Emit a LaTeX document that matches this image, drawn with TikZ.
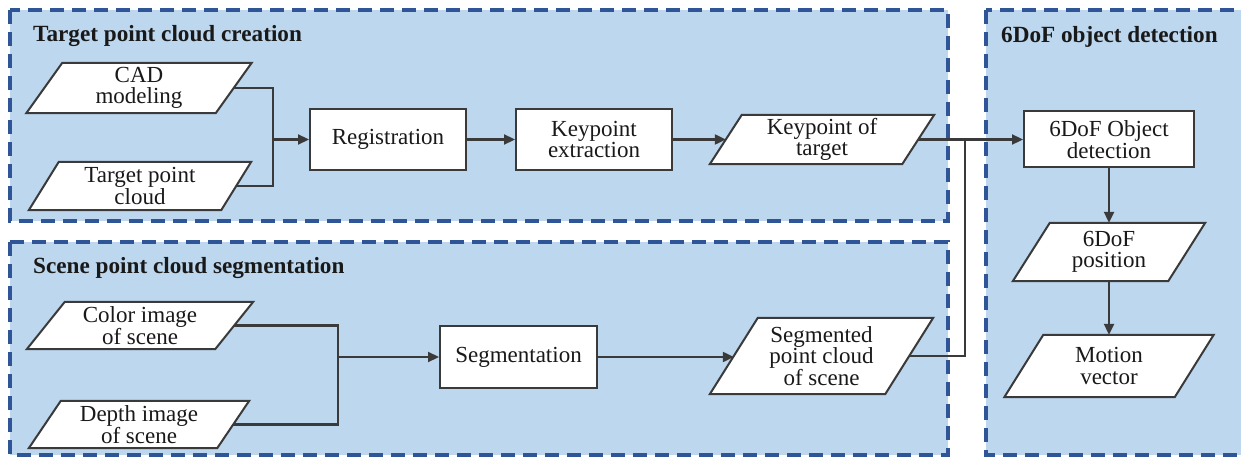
\documentclass[tikz,border=0pt]{standalone}
\usepackage{fontspec}
\setmainfont{Liberation Serif}
\usetikzlibrary{arrows.meta,calc}
\pgfdeclarelayer{bg}
\pgfdeclarelayer{mid}
\pgfsetlayers{bg,mid,main}
\definecolor{regfill}{RGB}{189,215,238}
\definecolor{regline}{RGB}{47,85,151}
\definecolor{ink}{RGB}{58,58,58}
\definecolor{txt}{RGB}{25,25,25}
\begin{document}
\begin{tikzpicture}[x=1pt,y=-1pt,
  region/.style={fill=regfill, draw=regline, line width=4pt, dash pattern=on 14pt off 8pt},
  lbl/.style={rectangle, inner sep=0pt, align=center, text=txt, font=\fontsize{23}{21.5}\selectfont},
  proc/.style={lbl, draw=ink, line width=2pt, fill=white},
  io/.style={lbl},
  iobox/.style={draw=ink, line width=2pt, fill=white, line join=miter},
  conn/.style={draw=ink, line width=2.2pt},
  arr/.style={conn, -{Triangle[length=11pt,width=10pt]}},
  title/.style={anchor=base west, font=\bfseries\fontsize{23.2}{24}\selectfont, text=txt, inner sep=0pt}]
\useasboundingbox (0,0) rectangle (1241,457);
\begin{pgfonlayer}{bg}
\fill[white] (0,0) rectangle (1241,457);
\path[region] (10,10) rectangle (948,221);
\path[region] (10,242) rectangle (948,455);
\path[region] (986,10) rectangle (1270,455);
\end{pgfonlayer}

% titles
\node[title] (t1) at (33,42) {Target point cloud creation};
\node[title] (t2) at (33,273) {Scene point cloud segmentation};
\node[title] (t3) at (1001,43) {6DoF object detection};

% top row
\node[io, minimum width=189pt, minimum height=50pt] (cad) at (139,88) {CAD\\modeling};
\node[io, minimum width=192pt, minimum height=48pt] (tpc) at (140,186) {Target point\\cloud};
\node[proc, minimum width=156pt, minimum height=61pt] (reg) at (388,139.5) {Registration};
\node[proc, minimum width=156pt, minimum height=61pt] (kex) at (594,139.5) {Keypoint\\extraction};
\node[io, minimum width=192pt, minimum height=49pt] (kot) at (822,139.5) {Keypoint of\\target};

% bottom row
\node[io, minimum width=188pt, minimum height=47pt] (col) at (140,325.5) {Color image\\of scene};
\node[io, minimum width=188pt, minimum height=47pt] (dep) at (139,424.5) {Depth image\\of scene};
\node[proc, minimum width=157pt, minimum height=62pt] (seg) at (518.5,357) {Segmentation};
\node[io, minimum width=175pt, minimum height=76pt] (spc) at (821.5,356) {Segmented\\point cloud\\of scene};

% right column
\node[proc, minimum width=170pt, minimum height=56pt] (det) at (1109,139.5) {6DoF Object\\detection};
\node[io, minimum width=155pt, minimum height=58pt] (pos) at (1109,252) {6DoF\\position};
\node[io, minimum width=170pt, minimum height=62pt] (mv) at (1109,366) {Motion\\vector};

\begin{pgfonlayer}{mid}
\foreach \n/\hs in {cad/18, tpc/15, kot/16, col/19, dep/16, spc/24, pos/18.5, mv/19.5}
  \draw[iobox] ($(\n.north west)+(\hs,0)$) -- ($(\n.north east)+(\hs,0)$) -- ($(\n.south east)-(\hs,0)$) -- ($(\n.south west)-(\hs,0)$) -- cycle;
\end{pgfonlayer}

% connectors
\coordinate (j1) at (273,139.5);
\draw[conn] (cad.east) -| (j1);
\draw[conn] (tpc.east) -| (j1);
\draw[arr] (j1) -- (reg.west);
\draw[arr] (reg) -- (kex);
\draw[arr] (kex) -- (kot);
\draw[arr] (kot.east) -- (det.west);
\coordinate (j2) at (965,139.5);
\draw[conn] (spc.east) -| (j2);
\draw[arr] (det) -- (pos);
\draw[arr] (pos) -- (mv);
\coordinate (j3) at (338,357);
\draw[conn] (col.east) -| (j3);
\draw[conn] (dep.east) -| (j3);
\draw[arr] (j3) -- (seg.west);
\draw[arr] (seg) -- (spc.west |- seg);
\end{tikzpicture}
\end{document}
